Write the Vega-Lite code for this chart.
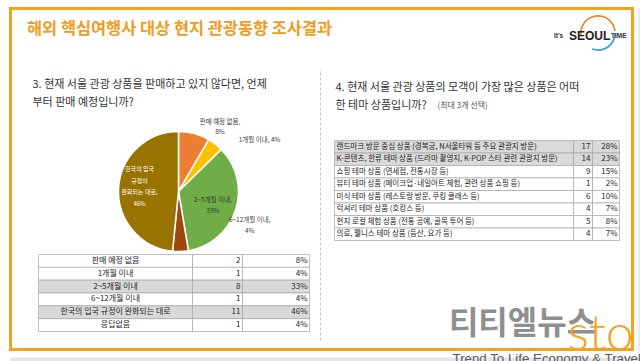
{
  "$schema": "https://vega.github.io/schema/vega-lite/v6.json",
  "padding": {"left": 8.5, "top": 6.5, "right": 0, "bottom": 0},
  "background": "white",
  "config": {"view": {"stroke": null}, "font": "Noto Sans CJK KR"},
  "datasets": {
    "q3": [
      {"answer": "판매 예정 없음", "count": 2, "pct": 0.08, "pieLabel": "판매 예정 없음,\n8%"},
      {"answer": "1개월 이내", "count": 1, "pct": 0.04, "pieLabel": "1개월 이내, 4%"},
      {"answer": "2~5개월 이내", "count": 8, "pct": 0.33, "pieLabel": "2~5개월 이내,\n33%"},
      {"answer": "6~12개월 이내", "count": 1, "pct": 0.04, "pieLabel": "6~12개월 이내,\n4%"},
      {"answer": "한국의 입국 규정이 완화되는 대로", "count": 11, "pct": 0.46, "pieLabel": "한국의 입국\n규정이\n완화되는 대로,\n46%"},
      {"answer": "응답없음", "count": 1, "pct": 0.04, "pieLabel": ""}
    ],
    "q4": [
      {"answer": "랜드마크 방문 중심 상품 (경복궁, N서울타워 등 주요 관광지 방문)", "count": 17, "pct": 0.28},
      {"answer": "K-콘텐츠, 한류 테마 상품 (드라마 촬영지, K-POP 스타 관련 관광지 방문)", "count": 14, "pct": 0.23},
      {"answer": "쇼핑 테마 상품 (면세점, 전통시장 등)", "count": 9, "pct": 0.15},
      {"answer": "뷰티 테마 상품 (메이크업·네일아트 체험, 관련 상품 쇼핑 등)", "count": 1, "pct": 0.02},
      {"answer": "미식 테마 상품 (레스토랑 방문, 쿠킹 클래스 등)", "count": 6, "pct": 0.10},
      {"answer": "럭셔리 테마 상품 (호캉스 등)", "count": 4, "pct": 0.07},
      {"answer": "현지 로컬 체험 상품 (전통 공예, 골목 투어 등)", "count": 5, "pct": 0.08},
      {"answer": "의료, 웰니스 테마 상품 (등산, 요가 등)", "count": 4, "pct": 0.07}
    ]
  },
  "bounds": "flush",
  "spacing": 0,
  "vconcat": [
    {
      "bounds": "flush",
      "spacing": 0,
      "hconcat": [
        {
          "bounds": "flush",
          "spacing": 0,
          "vconcat": [
            {"width": 1, "height": 348.5, "data": {"values": []}, "mark": "point", "encoding": {}},
            {"width": 632, "height": 10, "view": {"fill": "#e6e6e6", "stroke": null}, "data": {"values": []}, "mark": "point", "encoding": {}}
          ]
        },
        {"width": 627.5, "height": 1, "data": {"values": []}, "mark": "point", "encoding": {}},
        {"width": 6, "height": 360, "view": {"fill": "#e6e6e6", "stroke": null}, "data": {"values": []}, "mark": "point", "encoding": {}}
      ]
    },
    {
      "bounds": "flush",
      "spacing": 0,
      "vconcat": [
        {
          "bounds": "flush",
          "spacing": 0,
          "hconcat": [
            {
              "width": 555, "height": 49,
              "data": {"values": [{}]},
              "layer": [
                {"mark": {"type": "text", "text": "해외 핵심여행사 대상 현지 관광동향 조사결과", "align": "left", "baseline": "middle", "dx": -261, "dy": -4, "fontSize": 16.4, "fontWeight": "bold", "color": "#F39A1B"}, "encoding": {}},
                {"mark": {"type": "text", "text": "It's", "align": "left", "baseline": "middle", "dx": 266, "dy": 3, "fontSize": 6.5, "fontWeight": "bold", "color": "#333333", "font": "Liberation Sans"}, "encoding": {}}
              ]
            },
            {
              "width": 65, "height": 49,
              "data": {"values": [{}]},
              "layer": [
                {"mark": {"type": "arc", "theta": -1.75, "theta2": 1.45, "radius": 18, "radius2": 16.3, "color": "#E8892B"}, "encoding": {}},
                {"mark": {"type": "arc", "theta": 1.6, "theta2": 3.5, "radius": 18, "radius2": 16.3, "color": "#2BA6DE"}, "encoding": {}},
                {"mark": {"type": "text", "text": "SEOUL", "align": "left", "baseline": "middle", "dx": -29, "dy": 3, "fontSize": 12, "fontWeight": "bold", "color": "#222222", "font": "Liberation Sans"}, "encoding": {}},
                {"mark": {"type": "text", "text": "TIME", "align": "left", "baseline": "middle", "dx": 13, "dy": 3, "fontSize": 6.5, "fontWeight": "bold", "color": "#333333", "font": "Liberation Sans"}, "encoding": {}}
              ]
            }
          ]
        },
        {"width": 1, "height": 48.5, "data": {"values": []}, "mark": "point", "encoding": {}},
        {
          "bounds": "flush",
          "spacing": 0,
          "hconcat": [
            {"width": 21.5, "height": 1, "data": {"values": []}, "mark": "point", "encoding": {}},
            {
              "bounds": "flush",
              "spacing": 0,
              "vconcat": [
                {
                  "width": 286, "height": 71,
                  "data": {"values": [{}]},
                  "mark": {"type": "text", "text": "3. 현재 서울 관광 상품을 판매하고 있지 않다면, 언제\n부터 판매 예정입니까?", "lineBreak": "\n", "lineHeight": 18, "align": "left", "baseline": "middle", "dx": -143, "dy": -8.5, "fontSize": 11, "color": "#333333"},
                  "encoding": {}
                },
                {
                  "width": 292, "height": 126,
                  "data": {"name": "q3"},
                  "transform": [
                    {"filter": "datum.answer !== '응답없음'"},
                    {"window": [{"op": "row_number", "as": "rank"}]}
                  ],
                  "encoding": {
                    "theta": {"field": "pct", "type": "quantitative", "stack": true},
                    "order": {"field": "rank", "type": "quantitative"}
                  },
                  "layer": [
                    {
                      "mark": {"type": "arc", "outerRadius": 60, "stroke": "white", "strokeWidth": 1.5},
                      "encoding": {
                        "color": {"field": "answer", "type": "nominal", "sort": null, "legend": null,
                          "scale": {"domain": ["판매 예정 없음", "1개월 이내", "2~5개월 이내", "6~12개월 이내", "한국의 입국 규정이 완화되는 대로"],
                                    "range": ["#ED7D31", "#FFC000", "#70AD47", "#9E480E", "#997300"]}}
                      }
                    },
                    {
                      "mark": {"type": "text", "radius": 67, "dx": 24, "dy": -5, "fontSize": 6.5, "lineHeight": 10, "lineBreak": "\n", "color": "#404040", "baseline": "middle"},
                      "encoding": {"detail": {"field": "answer"}, "text": {"condition": {"test": "datum.answer === '판매 예정 없음'", "field": "pieLabel"}, "value": ""}}
                    },
                    {
                      "mark": {"type": "text", "radius": 67, "dx": 40, "dy": 1, "fontSize": 6.5, "lineHeight": 10, "lineBreak": "\n", "color": "#404040", "baseline": "middle"},
                      "encoding": {"detail": {"field": "answer"}, "text": {"condition": {"test": "datum.answer === '1개월 이내'", "field": "pieLabel"}, "value": ""}}
                    },
                    {
                      "mark": {"type": "text", "radius": 36, "dx": 0, "dy": -3, "fontSize": 6.5, "lineHeight": 11, "lineBreak": "\n", "color": "#333333", "baseline": "middle"},
                      "encoding": {"detail": {"field": "answer"}, "text": {"condition": {"test": "datum.answer === '2~5개월 이내'", "field": "pieLabel"}, "value": ""}}
                    },
                    {
                      "mark": {"type": "text", "radius": 67, "dx": 69, "dy": -38, "fontSize": 6.5, "lineHeight": 11, "lineBreak": "\n", "color": "#404040", "baseline": "middle"},
                      "encoding": {"detail": {"field": "answer"}, "text": {"condition": {"test": "datum.answer === '6~12개월 이내'", "field": "pieLabel"}, "value": ""}}
                    },
                    {
                      "mark": {"type": "text", "radius": 44, "dx": 5, "dy": -20, "fontSize": 6, "lineHeight": 11.5, "lineBreak": "\n", "color": "#ffffff", "baseline": "middle"},
                      "encoding": {"detail": {"field": "answer"}, "text": {"condition": {"test": "datum.answer === '한국의 입국 규정이 완화되는 대로'", "field": "pieLabel"}, "value": ""}}
                    }
                  ]
                },
                {
                  "bounds": "flush",
                  "spacing": 0,
                  "hconcat": [
                    {"width": 6, "height": 1, "data": {"values": []}, "mark": "point", "encoding": {}},
                    {
                      "width": 154, "height": 77,
                      "data": {"name": "q3"},
                      "encoding": {"y": {"field": "answer", "type": "nominal", "sort": null, "axis": null, "scale": {"paddingInner": 0, "paddingOuter": 0}}},
                      "layer": [
                        {"mark": {"type": "rect", "stroke": "#a6a6a6", "strokeWidth": 0.7},
                         "encoding": {"fill": {"condition": {"test": "datum.pct >= 0.2", "value": "#d9d9d9"}, "value": "#ffffff"}}},
                        {"mark": {"type": "text", "fontSize": 8, "color": "#262626", "baseline": "middle"},
                         "encoding": {"text": {"field": "answer"}}}
                      ]
                    },
                    {
                      "width": 50, "height": 77,
                      "data": {"name": "q3"},
                      "encoding": {"y": {"field": "answer", "type": "nominal", "sort": null, "axis": null, "scale": {"paddingInner": 0, "paddingOuter": 0}}},
                      "layer": [
                        {"mark": {"type": "rect", "stroke": "#a6a6a6", "strokeWidth": 0.7},
                         "encoding": {"fill": {"condition": {"test": "datum.pct >= 0.2", "value": "#d9d9d9"}, "value": "#ffffff"}}},
                        {"mark": {"type": "text", "fontSize": 8, "color": "#262626", "baseline": "middle", "align": "right", "dx": 23},
                         "encoding": {"text": {"field": "count", "type": "quantitative"}}}
                      ]
                    },
                    {
                      "width": 67, "height": 77,
                      "data": {"name": "q3"},
                      "encoding": {"y": {"field": "answer", "type": "nominal", "sort": null, "axis": null, "scale": {"paddingInner": 0, "paddingOuter": 0}}},
                      "layer": [
                        {"mark": {"type": "rect", "stroke": "#a6a6a6", "strokeWidth": 0.7},
                         "encoding": {"fill": {"condition": {"test": "datum.pct >= 0.2", "value": "#d9d9d9"}, "value": "#ffffff"}}},
                        {"mark": {"type": "text", "fontSize": 8, "color": "#262626", "baseline": "middle", "align": "right", "dx": 31.5},
                         "encoding": {"text": {"field": "pct", "type": "quantitative", "format": ".0%"}}}
                      ]
                    }
                  ]
                }
              ]
            },
            {"width": 286, "height": 1, "data": {"values": []}, "mark": "point", "encoding": {}},
            {
              "bounds": "flush",
              "spacing": 0,
              "vconcat": [
                {"width": 4, "height": 12, "data": {"values": []}, "mark": "point", "encoding": {}},
                {
                  "width": 4, "height": 271,
                  "data": {"values": [{}]},
                  "mark": {"type": "rule", "color": "#c4c4c4", "strokeDash": [3, 2], "strokeWidth": 1},
                  "encoding": {
                    "y": {"datum": 0, "type": "quantitative", "scale": {"domain": [0, 1]}, "axis": null},
                    "y2": {"datum": 1}
                  }
                }
              ]
            },
            {"width": 16, "height": 1, "data": {"values": []}, "mark": "point", "encoding": {}},
            {
              "bounds": "flush",
              "spacing": 0,
              "vconcat": [
                {
                  "width": 285, "height": 83,
                  "data": {"values": [{}]},
                  "layer": [
                    {"mark": {"type": "text", "text": "4. 현재 서울 관광 상품의 모객이 가장 많은 상품은 어떠\n한 테마 상품입니까?", "lineBreak": "\n", "lineHeight": 18, "align": "left", "baseline": "middle", "dx": -141.5, "dy": -11.5, "fontSize": 11, "color": "#333333"}, "encoding": {}},
                    {"mark": {"type": "text", "text": "(최대 3개 선택)", "align": "left", "baseline": "middle", "dx": -39.5, "dy": 6.5, "fontSize": 8, "color": "#555555"}, "encoding": {}}
                  ]
                },
                {
                  "bounds": "flush",
                  "spacing": 0,
                  "hconcat": [
                    {
                      "width": 239, "height": 100,
                      "data": {"name": "q4"},
                      "encoding": {"y": {"field": "answer", "type": "nominal", "sort": null, "axis": null, "scale": {"paddingInner": 0, "paddingOuter": 0}}},
                      "layer": [
                        {"mark": {"type": "rect", "stroke": "#a6a6a6", "strokeWidth": 0.7},
                         "encoding": {"fill": {"condition": {"test": "datum.pct >= 0.2", "value": "#d9d9d9"}, "value": "#ffffff"}}},
                        {"mark": {"type": "text", "fontSize": 7.5, "color": "#262626", "baseline": "middle", "align": "left", "dx": -117.5},
                         "encoding": {"text": {"field": "answer"}}}
                      ]
                    },
                    {
                      "width": 19, "height": 100,
                      "data": {"name": "q4"},
                      "encoding": {"y": {"field": "answer", "type": "nominal", "sort": null, "axis": null, "scale": {"paddingInner": 0, "paddingOuter": 0}}},
                      "layer": [
                        {"mark": {"type": "rect", "stroke": "#a6a6a6", "strokeWidth": 0.7},
                         "encoding": {"fill": {"condition": {"test": "datum.pct >= 0.2", "value": "#d9d9d9"}, "value": "#ffffff"}}},
                        {"mark": {"type": "text", "fontSize": 8, "color": "#262626", "baseline": "middle", "align": "right", "dx": 7.5},
                         "encoding": {"text": {"field": "count", "type": "quantitative"}}}
                      ]
                    },
                    {
                      "width": 27, "height": 100,
                      "data": {"name": "q4"},
                      "encoding": {"y": {"field": "answer", "type": "nominal", "sort": null, "axis": null, "scale": {"paddingInner": 0, "paddingOuter": 0}}},
                      "layer": [
                        {"mark": {"type": "rect", "stroke": "#a6a6a6", "strokeWidth": 0.7},
                         "encoding": {"fill": {"condition": {"test": "datum.pct >= 0.2", "value": "#d9d9d9"}, "value": "#ffffff"}}},
                        {"mark": {"type": "text", "fontSize": 8, "color": "#262626", "baseline": "middle", "align": "right", "dx": 11.5},
                         "encoding": {"text": {"field": "pct", "type": "quantitative", "format": ".0%"}}}
                      ]
                    }
                  ]
                },
                {"width": 1, "height": 100, "data": {"values": []}, "mark": "point", "encoding": {}},
                {
                  "width": 285, "height": 108,
                  "data": {"values": [{}]},
                  "layer": [
                    {"mark": {"type": "text", "text": "티티엘뉴스", "align": "center", "baseline": "middle", "dx": 45.5, "dy": 29.5, "fontSize": 32, "fontWeight": "bold", "color": "#8f8f8f"}, "encoding": {}},
                    {"mark": {"type": "text", "text": "sto", "align": "left", "baseline": "alphabetic", "dx": 90.5, "dy": 55, "fontSize": 50, "fontWeight": 300, "font": "Lato", "color": "#F4A11D"}, "encoding": {}},
                    {"mark": {"type": "text", "text": "Trend To Life Economy & Travel", "align": "left", "baseline": "middle", "dx": -24.5, "dy": 64, "fontSize": 13.3, "font": "Liberation Sans", "color": "#595959"}, "encoding": {}}
                  ]
                }
              ]
            }
          ]
        }
      ]
    },
    {"width": 622, "height": 341, "view": {"stroke": "#F4A11D", "strokeWidth": 3, "fill": null}, "data": {"values": []}, "mark": "point", "encoding": {}}
  ]
}
